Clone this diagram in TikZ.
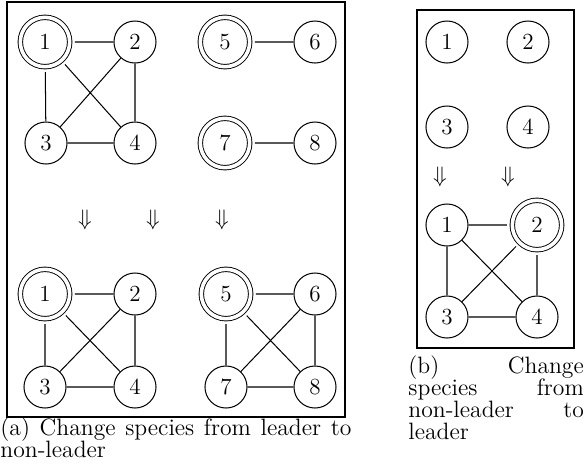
\documentclass[tikz,border=0pt]{standalone}
\usepackage{amsmath}
\begin{document}
\begin{tikzpicture}[x=0.49pt,y=-0.49pt,
  vtx/.style={draw,circle,line width=0.5pt,minimum size=20.6pt,inner sep=0pt,font=\fontsize{11.3}{13}\selectfont},
  lead/.style={draw,circle,line width=0.45pt,minimum size=24.2pt,inner sep=0pt,double,double distance=1.75pt,outer sep=2.6pt,font=\fontsize{11.3}{13}\selectfont},
  lnk/.style={line width=0.5pt},
  framebox/.style={draw,line width=0.65pt},
  arr/.style={inner sep=0pt,font=\fontsize{10.5}{12}\selectfont},
  captext/.style={anchor=base west,inner sep=0pt,font=\fontsize{11.6}{13}\selectfont}]
\useasboundingbox (0,0) rectangle (583,468);
% frames
\draw[framebox] (7,2) rectangle (345,417);
\draw[framebox] (417,10) rectangle (574,348);
% left top
\node[lead] (a1) at (45,42) {1};
\node[vtx] (a2) at (135,42) {2};
\node[vtx] (a3) at (46,143) {3};
\node[vtx] (a4) at (135,143) {4};
\node[lead] (a5) at (225,42) {5};
\node[vtx] (a6) at (315,42) {6};
\node[lead] (a7) at (225,143) {7};
\node[vtx] (a8) at (315,143) {8};
\draw[lnk] (a1)--(a2) (a1)--(a3) (a1)--(a4) (a2)--(a3) (a2)--(a4) (a3)--(a4) (a5)--(a6) (a7)--(a8);
% arrows
\node[arr] (d1) at (85,220) {$\Downarrow$};
\node[arr] (d2) at (153,220) {$\Downarrow$};
\node[arr] (d3) at (222,220) {$\Downarrow$};
% left bottom
\node[lead] (b1) at (45,294) {1};
\node[vtx] (b2) at (135,294) {2};
\node[vtx] (b3) at (45,387) {3};
\node[vtx] (b4) at (135,387) {4};
\node[lead] (b5) at (226,294) {5};
\node[vtx] (b6) at (315,294) {6};
\node[vtx] (b7) at (226,387) {7};
\node[vtx] (b8) at (315,387) {8};
\draw[lnk] (b1)--(b2) (b1)--(b3) (b1)--(b4) (b2)--(b3) (b2)--(b4) (b3)--(b4);
\draw[lnk] (b5)--(b6) (b5)--(b7) (b5)--(b8) (b6)--(b7) (b6)--(b8) (b7)--(b8);
% right top
\node[vtx] (c1) at (447,42) {1};
\node[vtx] (c2) at (528,42) {2};
\node[vtx] (c3) at (447,127) {3};
\node[vtx] (c4) at (528,127) {4};
\node[arr] (e1) at (440,177) {$\Downarrow$};
\node[arr] (e2) at (508,177) {$\Downarrow$};
% right bottom
\node[vtx] (g1) at (447,225) {1};
\node[lead] (g2) at (537,225) {2};
\node[vtx] (g3) at (447,317) {3};
\node[vtx] (g4) at (537,317) {4};
\draw[lnk] (g1)--(g2) (g1)--(g3) (g1)--(g4) (g2)--(g3) (g2)--(g4) (g3)--(g4);
% captions
\node[captext] (ca1) at (0,435) {\hbox to 172pt{(a) Change species from leader to}};
\node[captext] (ca2) at (0,457) {non-leader};
\node[captext] (cb1) at (408,373) {\hbox to 86pt{(b)\hfill Change}};
\node[captext] (cb2) at (408,395) {\hbox to 86pt{species\hfill from}};
\node[captext] (cb3) at (408,417) {\hbox to 86pt{non-leader\hfill to}};
\node[captext] (cb4) at (408,439) {leader};
\end{tikzpicture}
\end{document}
